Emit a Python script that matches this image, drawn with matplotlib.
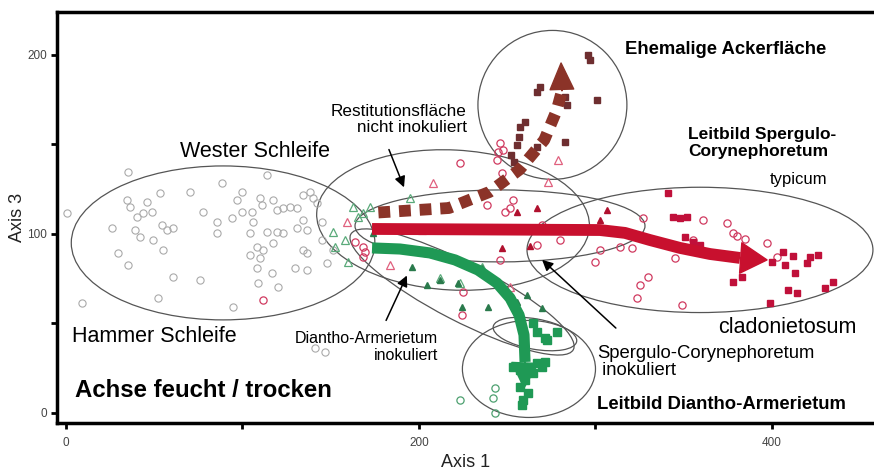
import matplotlib
matplotlib.use("Agg")
import matplotlib.pyplot as plt
from matplotlib.patches import Ellipse

plt.rcParams['font.family'] = ['Liberation Sans', 'DejaVu Sans']

# --- data (Axis 1, Axis 3) ---
grey_x = [35.1, 0.6, 9.1, 26.1, 29.5, 35.1, 34.6, 36.3, 40.2, 39.1, 41.9, 45.9, 48.7, 43.6, 49.3,
          53.3, 54.4, 57.2, 60.6, 55.0, 60.6, 52.1, 70.3, 77.6, 85.6, 85.6, 88.4, 94.1, 99.7, 96.9,
          99.7, 105.4, 105.9, 109.9, 111.0, 113.9, 117.3, 119.5, 122.9, 126.9, 130.9, 134.3, 138.2,
          139.9, 142.2, 104.2, 113.9, 119.5, 122.9, 117.3, 108.2, 111.6, 109.9, 104.2, 130.9, 134.3,
          136.5, 134.3, 136.5, 129.7, 136.5, 116.7, 120.1, 108.8, 108.2, 75.9, 94.6, 145.0, 147.9,
          151.3, 145.0, 141.1, 146.7]
grey_y = [134.6, 111.7, 61.5, 103.4, 89.4, 82.7, 119.0, 115.1, 109.5, 102.2, 98.3, 117.9, 112.3, 111.7,
          96.6, 122.9, 105.0, 102.2, 103.4, 91.1, 76.0, 64.2, 123.5, 112.3, 106.7, 100.6, 128.5, 108.9,
          123.5, 119.0, 112.3, 112.3, 106.7, 120.1, 116.2, 133.0, 119.0, 113.4, 114.5, 115.1, 114.5,
          121.8, 123.5, 120.1, 117.3, 100.6, 101.1, 101.1, 100.6, 95.0, 92.7, 91.1, 86.6, 88.3, 103.4,
          107.8, 102.2, 91.1, 89.4, 81.0, 79.9, 78.2, 70.4, 72.6, 81.0, 74.3, 59.2, 106.7, 83.8, 91.1,
          96.6, 36.3, 34.1]

redc_x = [253.3, 248.7, 269.7, 326.9, 360.9, 374.5, 377.9, 384.7, 397.2, 402.8, 299.7, 302.5, 313.9,
          320.7, 345.0, 329.7, 325.2, 323.5, 349.0, 355.2, 266.9, 245.9, 224.4, 224.9, 223.2, 245.9,
          247.6, 244.2, 247.0, 251.6, 238.5, 163.7, 168.3, 169.4, 168.3, 244.8, 380.2, 279.9, 111.6]
redc_y = [119.0, 112.3, 105.0, 108.9, 107.8, 106.1, 100.6, 97.2, 95.0, 87.2, 84.4, 91.1, 92.7,
          92.2, 86.6, 76.0, 71.5, 64.2, 60.3, 96.6, 93.9, 85.5, 54.7, 67.6, 139.7, 150.8,
          146.9, 141.3, 134.1, 114.5, 116.2, 95.5, 92.7, 89.9, 87.2, 145.8, 98.9, 96.6, 63.1]

reds_x = [341.1, 343.9, 347.9, 351.8, 350.7, 355.2, 359.2, 377.9, 383.0, 400.0, 406.2, 407.4, 411.9,
          413.0, 414.2, 419.8, 421.5, 426.1, 409.1, 398.9, 430.0, 434.6]
reds_y = [122.9, 109.5, 108.9, 109.5, 98.3, 95.5, 93.9, 73.2, 76.0, 84.4, 89.9, 82.7, 87.7,
          78.2, 67.0, 83.8, 87.2, 88.3, 68.7, 61.5, 69.8, 73.2]

redt_x = [255.5, 266.9, 247.0, 262.9, 302.5, 306.5]
redt_y = [112.3, 114.5, 92.2, 93.3, 107.8, 113.4]

pinkt_x = [207.9, 278.8, 273.1, 159.2, 183.6, 251.6, 201.7]
pinkt_y = [128.5, 141.3, 129.1, 106.7, 82.7, 70.4, 102.2]

greent_open_x = [194.9, 172.2, 162.6, 168.3, 151.3, 152.4, 159.8, 223.2, 211.9, 235.7, 165.4, 158.1]
greent_open_y = [120.1, 115.1, 115.1, 111.7, 101.1, 92.7, 84.4, 72.6, 75.4, 81.6, 109.5, 96.6]

greent_x = [196.0, 204.5, 224.4, 239.1, 255.5, 261.2, 269.7, 235.7, 222.1, 173.9, 211.9]
greent_y = [81.6, 71.5, 59.2, 59.2, 62.0, 65.9, 58.7, 81.0, 72.6, 100.6, 74.3]

greens_x = [264.6, 266.9, 272.5, 278.2, 271.4, 253.3, 257.2, 262.9, 266.9, 269.7, 271.4, 264.6,
            260.1, 257.2, 261.8, 258.9, 258.4]
greens_y = [50.3, 45.3, 40.8, 45.3, 41.9, 25.7, 24.0, 24.0, 27.9, 25.7, 28.5, 22.3,
            18.4, 14.5, 11.2, 7.3, 4.5]

greenc_x = [243.1, 241.9, 243.1, 223.2]
greenc_y = [14.0, 8.4, 0.0, 7.3]

brown_x = [295.8, 296.9, 268.6, 266.9, 300.8, 283.9, 282.7, 260.1, 257.2, 256.7, 255.5, 282.7,
           266.9, 252.1, 253.8]
brown_y = [200.0, 197.2, 182.1, 179.3, 174.9, 172.1, 176.5, 162.6, 159.8, 154.2, 149.7, 151.4,
           148.6, 144.1, 140.2]

# trend arrows (path, then tip)
red_path_x = [173.4, 302.5, 316.7, 330.9, 347.9, 364.9, 381.9]
red_path_y = [102.8, 102.2, 100.6, 96.6, 92.2, 88.8, 86.6]
red_tip = (397.2, 85.5)

green_path_x = [173.4, 189.2, 206.2, 220.4, 233.4, 244.2, 251.6, 256.7, 259.5, 260.1]
green_path_y = [92.2, 91.6, 89.4, 85.5, 79.9, 72.6, 64.2, 54.7, 43.6, 28.5]
green_tip = (259.5, 14.0)

brown_path_x = [177, 217, 240, 257, 271, 278, 281]
brown_path_y = [112, 114.5, 123.5, 136, 152.5, 169, 180]
brown_tip = (280.5, 195.5)

# group ellipses: (cx, cy, width, height, angle)
ellipses = [
    (89, 95, 172, 86, 0),
    (219.3, 107.8, 154.7, 78.2, -3),
    (275.6, 172.1, 84.4, 83.2, 0),
    (359.2, 91.1, 196, 70, 0),
    (245.9, 104.5, 164.3, 40.2, 0),
    (224.4, 67.6, 141.6, 32.4, -27),
    (265.7, 44.1, 48, 17, -10),
    (262.3, 24.6, 75.4, 54.2, 0),
]

RED = '#c8102e'
GREEN = '#1f9955'
BROWN = '#8b3328'

fig = plt.figure(figsize=(8.74, 4.72), dpi=100)
ax = fig.add_axes([0.0652, 0.1038, 0.9348, 0.8708])

for cx, cy, w, h, a in ellipses:
    ax.add_patch(Ellipse((cx, cy), w, h, angle=a, fill=False, edgecolor='#555555', lw=0.9, zorder=1))

ms = 5.2
ax.plot(grey_x, grey_y, 'o', mfc='none', mec='#aaaaaa', ms=ms, mew=0.8, zorder=2)
ax.plot(redc_x, redc_y, 'o', mfc='none', mec='#d03a60', ms=ms, mew=0.9, zorder=2)
ax.plot(pinkt_x, pinkt_y, '^', mfc='none', mec='#e0607e', ms=ms, mew=0.9, zorder=2)
ax.plot(greent_open_x, greent_open_y, '^', mfc='none', mec='#5aaa7a', ms=ms, mew=0.9, zorder=2)
ax.plot(greenc_x, greenc_y, 'o', mfc='none', mec='#4da070', ms=ms, mew=0.9, zorder=2)
ax.plot(redt_x, redt_y, '^', color='#b0102e', ms=4.5, zorder=2)
ax.plot(greent_x, greent_y, '^', color='#2a7a4c', ms=4.5, zorder=2)
ax.plot(reds_x, reds_y, 's', color='#c0103a', ms=5, zorder=2)
ax.plot(brown_x, brown_y, 's', color='#6e2e30', ms=5, zorder=2)

# trend arrows
ax.plot(red_path_x, red_path_y, color=RED, lw=8.5, solid_capstyle='butt', solid_joinstyle='round', zorder=3)
ax.annotate('', xy=red_tip, xytext=(red_path_x[-1], red_path_y[-1]),
            arrowprops=dict(width=0.1, headwidth=22, headlength=19, shrink=0, color=RED), zorder=3)
ax.plot(green_path_x, green_path_y, color=GREEN, lw=8, solid_capstyle='butt', solid_joinstyle='round', zorder=3)
ax.annotate('', xy=green_tip, xytext=(green_path_x[-1], green_path_y[-1]),
            arrowprops=dict(width=0.1, headwidth=19, headlength=18, shrink=0, color=GREEN), zorder=3)
ax.plot(brown_path_x, brown_path_y, color=BROWN, lw=8.5, dashes=(1.0, 0.75), dash_capstyle='butt', zorder=3)
ax.annotate('', xy=brown_tip, xytext=(brown_path_x[-1], brown_path_y[-1]),
            arrowprops=dict(width=0.1, headwidth=17, headlength=19, shrink=0, color=BROWN), zorder=3)
ax.plot(greens_x, greens_y, 's', color=GREEN, ms=5.5, zorder=4)

# labels
ax.text(64.6, 145.8, 'Wester Schleife', fontsize=15.5, va='center', ha='left')
ax.text(3.4, 42.5, 'Hammer Schleife', fontsize=15.5, va='center', ha='left')
ax.text(5.1, 12.3, 'Achse feucht / trocken', fontsize=17.3, fontweight='bold', va='center', ha='left')
ax.text(227, 164, 'Restitutionsfläche\nnicht inokuliert', fontsize=12.3, va='center', ha='right',
        multialignment='right', linespacing=1.1)
ax.text(210.8, 36.9, 'Diantho-Armerietum\ninokuliert', fontsize=11.5, va='center', ha='right',
        multialignment='right', linespacing=1.15)
ax.text(300.8, 28.5, 'Spergulo-Corynephoretum\n inokuliert', fontsize=13.3, va='center', ha='left',
        multialignment='left', linespacing=1.05)
ax.text(408.5, 48, 'cladonietosum', fontsize=15.5, va='center', ha='center')
ax.text(300.8, 4.5, 'Leitbild Diantho-Armerietum', fontsize=13.3, fontweight='bold', va='center', ha='left')
ax.text(316.7, 202.8, 'Ehemalige Ackerfläche', fontsize=13.3, fontweight='bold', va='center', ha='left')
ax.text(352.4, 150.8, 'Leitbild Spergulo-\nCorynephoretum', fontsize=12.5, fontweight='bold',
        va='center', ha='left', linespacing=1.1)
ax.text(398.9, 130.2, 'typicum', fontsize=12, va='center', ha='left')

# pointer arrows
pointers = [((182.4, 148.6), (192.1, 124.6)),
            ((180.7, 50.3), (193.8, 78.2)),
            ((312.7, 46.4), (268.6, 86.6))]
for start, tip in pointers:
    ax.annotate('', xy=tip, xytext=start,
                arrowprops=dict(arrowstyle='-|>', color='black', lw=1.1, mutation_scale=16), zorder=5)

ax.set_xlim(-5.1, 457.8)
ax.set_ylim(-5.6, 224)
ax.set_xticks([0, 100, 200, 300, 400])
ax.set_xticklabels(['0', '', '200', '', '400'])
ax.set_yticks([0, 50, 100, 150, 200])
ax.set_yticklabels(['0', '', '100', '', '200'])
ax.tick_params(direction='out', length=4, width=2, labelsize=8.5, labelcolor='#444444', pad=3)
ax.tick_params(axis='x', pad=6)
for side in ['left', 'bottom', 'top']:
    ax.spines[side].set_linewidth(2.5)
ax.spines['right'].set_visible(False)
ax.set_xlabel('Axis 1', fontsize=13, color='#222222', labelpad=4)
ax.set_ylabel('Axis 3', fontsize=13, color='#222222', labelpad=1)

fig.savefig('out.png', dpi=100)
